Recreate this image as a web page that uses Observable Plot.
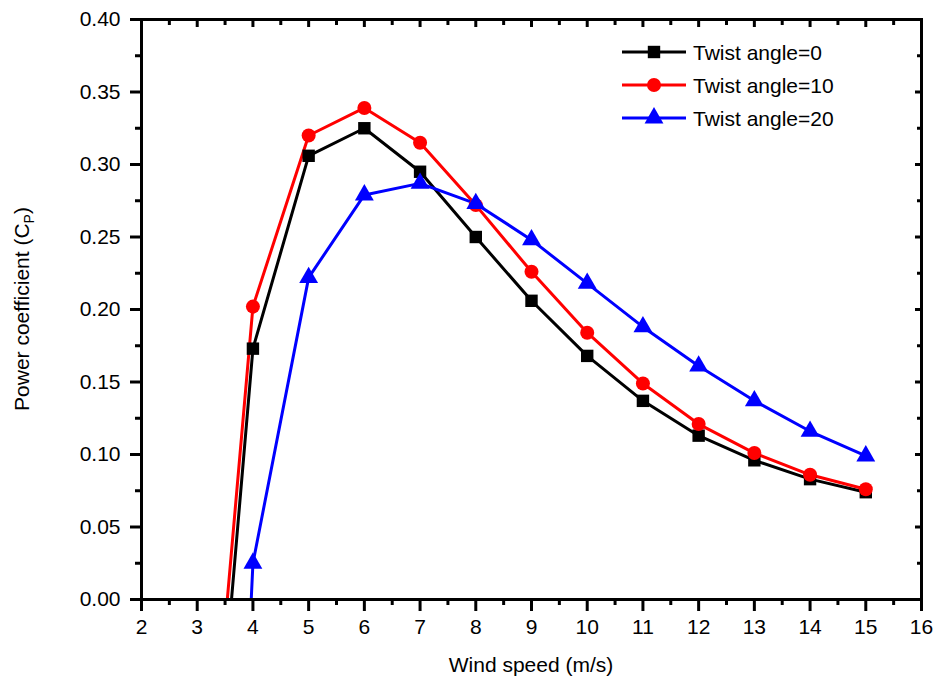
<!DOCTYPE html>
<html>
<head>
<meta charset="utf-8">
<script src="https://cdn.jsdelivr.net/npm/d3@7"></script>
<script src="https://cdn.jsdelivr.net/npm/@observablehq/plot@0.6"></script>
<style>
  html, body { margin: 0; padding: 0; background: #fff; }
  svg { font-family: "Liberation Sans", Arial, sans-serif; }
  [aria-label$="tick"], [aria-label$="tick"] * { stroke-width: 3px !important; stroke: #000 !important; }
  svg rect { stroke-width: 3px !important; stroke: #000 !important; fill: none !important; }
</style>
</head>
<body>
<div id="chart"></div>
<script>
// Data
const windSpeed = [3, 4, 5, 6, 7, 8, 9, 10, 11, 12, 13, 14, 15];
const cpTwist0  = [-0.277, 0.173, 0.306, 0.325, 0.295, 0.250, 0.206, 0.168, 0.137, 0.113, 0.096, 0.083, 0.074];
const cpTwist10 = [-0.237, 0.202, 0.320, 0.339, 0.315, 0.272, 0.226, 0.184, 0.149, 0.121, 0.101, 0.086, 0.076];
const cpTwist20 = [-0.800, 0.025, 0.222, 0.279, 0.287, 0.273, 0.248, 0.218, 0.188, 0.161, 0.137, 0.116, 0.099];
const seriesNames = ["Twist angle=0", "Twist angle=10", "Twist angle=20"];
const seriesColors = ["#000000", "#ff0000", "#0000ff"];
const seriesSymbols = ["square", "circle", "triangle"];
const xMajorTicks = [2, 3, 4, 5, 6, 7, 8, 9, 10, 11, 12, 13, 14, 15, 16];
const xMinorTicks = [2.5, 3.5, 4.5, 5.5, 6.5, 7.5, 8.5, 9.5, 10.5, 11.5, 12.5, 13.5, 14.5, 15.5];
const yMajorTicks = [0, 0.05, 0.10, 0.15, 0.20, 0.25, 0.30, 0.35, 0.40];
const yMinorTicks = [0.025, 0.075, 0.125, 0.175, 0.225, 0.275, 0.325, 0.375];

const allSeries = [cpTwist0, cpTwist10, cpTwist20];
const rows = [];
allSeries.forEach((vals, s) => {
  vals.forEach((v, i) => rows.push({series: seriesNames[s], x: windSpeed[i], y: v}));
});

const FS = 21;
const R = 7;
const plot = Plot.plot({
  width: 941,
  height: 693,
  marginLeft: 141,
  marginRight: 20,
  marginTop: 19,
  marginBottom: 94,
  style: {fontFamily: '"Liberation Sans", Arial, sans-serif', fontSize: FS + "px", background: "#fff"},
  x: {domain: [2, 16]},
  y: {domain: [0, 0.40]},
  color: {domain: seriesNames, range: seriesColors},
  symbol: {domain: seriesNames, range: seriesSymbols},
  marks: [
    Plot.lineY(rows, {x: "x", y: "y", z: "series", stroke: "series", strokeWidth: 3, clip: true}),
    Plot.dot(rows.filter(d => d.y >= 0), {x: "x", y: "y", fill: "series", symbol: "series", r: R, stroke: "none", clip: true}),
    Plot.frame({stroke: "#000", strokeWidth: 3}),
    Plot.axisX({ticks: xMajorTicks, tickSize: 12, tickPadding: 8, strokeWidth: 3, tickFormat: d => d, label: null, fontSize: FS, fill: "#000"}),
    Plot.axisX({ticks: xMinorTicks, tickSize: 6, strokeWidth: 3, text: null, label: null}),
    Plot.axisX({anchor: "top", ticks: xMajorTicks, tickSize: -7, strokeWidth: 3, text: null, label: null}),
    Plot.axisX({anchor: "top", ticks: xMinorTicks, tickSize: -5, strokeWidth: 3, text: null, label: null}),
    Plot.axisY({ticks: yMajorTicks, tickSize: 11, tickPadding: 10, strokeWidth: 3, tickFormat: d3.format(".2f"), label: null, fontSize: FS, fill: "#000"}),
    Plot.axisY({ticks: yMinorTicks, tickSize: 6, strokeWidth: 3, text: null, label: null}),
    Plot.axisY({anchor: "right", ticks: yMajorTicks, tickSize: -7, strokeWidth: 3, text: null, label: null}),
    Plot.axisY({anchor: "right", ticks: yMinorTicks, tickSize: -5, strokeWidth: 3, text: null, label: null})
  ]
});

const svg = d3.select(plot);

// Axis titles
svg.append("text")
  .attr("x", 141 + (941 - 141 - 20) / 2)
  .attr("y", 672)
  .attr("text-anchor", "middle")
  .attr("font-size", FS)
  .attr("fill", "#000")
  .text("Wind speed (m/s)");

const yl = svg.append("text")
  .attr("transform", "translate(29," + (19 + (693 - 19 - 94) / 2) + ") rotate(-90)")
  .attr("text-anchor", "middle")
  .attr("font-size", FS)
  .attr("fill", "#000");
yl.append("tspan").text("Power coefficient (C");
yl.append("tspan").attr("font-size", 14).attr("dy", 5).text("P");
yl.append("tspan").attr("dy", -5).text(")");

// Legend
const legendY = [52, 85, 118];
const sym = {square: d3.symbolSquare, circle: d3.symbolCircle, triangle: d3.symbolTriangle};
const lg = svg.append("g").attr("text-anchor", "start");
seriesNames.forEach((name, i) => {
  const g = lg.append("g").attr("transform", "translate(0," + legendY[i] + ")");
  g.append("line").attr("x1", 622).attr("x2", 686).attr("y1", 0).attr("y2", 0)
    .attr("stroke", seriesColors[i]).attr("stroke-width", 3);
  g.append("path").attr("transform", "translate(654,0)")
    .attr("d", d3.symbol(sym[seriesSymbols[i]], Math.PI * R * R)())
    .attr("fill", seriesColors[i]);
  g.append("text").attr("x", 693).attr("y", 0).attr("dy", "0.36em")
    .attr("text-anchor", "start")
    .attr("font-size", FS).attr("fill", "#000").text(name);
});

document.getElementById("chart").appendChild(plot);
</script>
</body>
</html>
